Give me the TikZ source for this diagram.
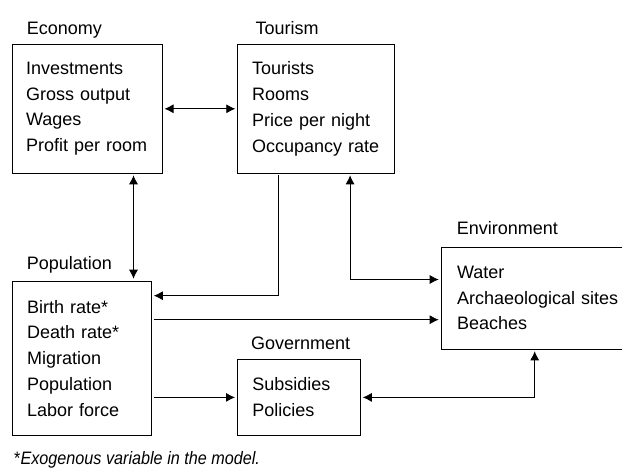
\documentclass[tikz,border=0pt]{standalone}
\usepackage{fontspec}
\setmainfont{Liberation Sans}
\newfontfamily\notefont[FakeStretch=0.9]{Liberation Sans}
\usetikzlibrary{arrows.meta,positioning}
\tikzstyle{block}=[draw, line width=0.8pt, anchor=north west, align=left,
 inner xsep=14pt, inner ysep=0pt]
\tikzstyle{title}=[anchor=base west, inner sep=0pt]
\tikzstyle{link}=[line width=0.8pt, shorten >=2pt, shorten <=2pt]

\begin{document}
\begin{tikzpicture}[x=1pt, y=-1pt, >={Latex[length=9pt,width=9pt]},
	font=\fontsize{18}{25.7}\selectfont]
	\useasboundingbox (0,0) rectangle (622,469);

	% Boxes
	\node[block, text width=122pt, minimum height=128.2pt] (eco) at (11.7,44.3)
		{Investments\\Gross output\\Wages\\Profit per room};
	\node[block, inner xsep=14.5pt, text width=128pt, minimum height=128.2pt] (tour) at (237.3,44.3)
		{Tourists\\Rooms\\Price per night\\Occupancy rate};
	\node[block, inner xsep=15pt, text width=109.3pt, minimum height=154.3pt] (pop) at (11.7,280.7)
		{Birth rate*\\Death rate*\\Migration\\Population\\Labor force};
	\node[block, inner xsep=16pt, text width=163pt, minimum height=102pt] (env) at (440.7,246.5)
		{Water\\Archaeological sites\\Beaches};
	\node[block, inner xsep=15pt, text width=93pt, minimum height=76pt] (gov) at (237,359)
		{Subsidies\\Policies};

	% Titles
	\node[above right=9.8pt and 15pt of eco.north west, title] (ecot) {Economy};
	\node[above right=9.8pt and 18pt of tour.north west, title] (tourt) {Tourism};
	\node[above right=10.9pt and 15pt of pop.north west, title] (popt) {Population};
	\node[above right=11.7pt and 16pt of env.north west, title] (envt) {Environment};
	\node[above right=9.8pt and 14pt of gov.north west, title] (govt) {Government};

	% Links
	\draw[link,<->] (eco) -- (tour);
	\draw[link,<->] ([xshift=-29pt]eco.south east) -- ([xshift=-29pt]eco.south east |- pop.north);
	\draw[link,->] ([xshift=41pt]tour.south west) |- ([yshift=-15pt]pop.north east);
	\draw[link,<->] ([xshift=-45pt]tour.south east) |- ([yshift=-33pt]env.north west);
	\draw[link,->] ([yshift=-39pt]pop.north east) -- ([yshift=-39pt]pop.north east -| env.west);
	\draw[link,->] (pop.east |- gov.west) -- (gov.west);
	\draw[link,<->] ([xshift=94pt]env.south west) |- (gov.east);

	% Footnote
	\node[title, font=\notefont\fontsize{18}{22}\selectfont] (note) at (14,464.5)
		{*\textit{Exogenous variable in the model.}};
\end{tikzpicture}
\end{document}
